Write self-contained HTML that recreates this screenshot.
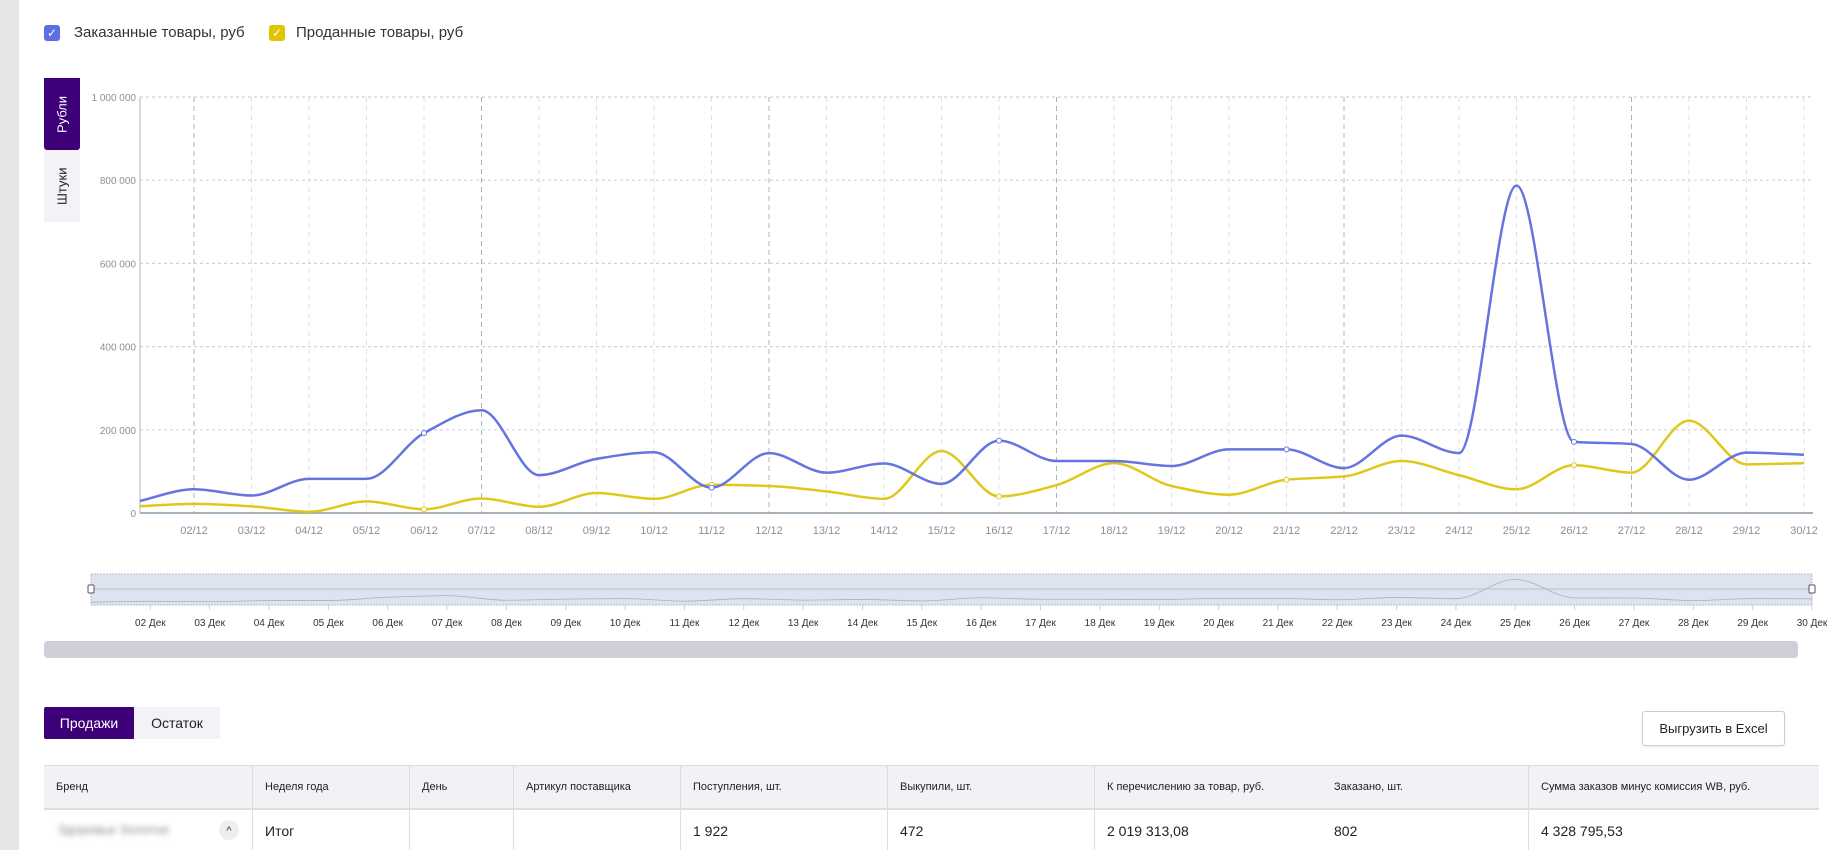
<!DOCTYPE html>
<html><head><meta charset="utf-8">
<style>
*{box-sizing:border-box;margin:0;padding:0}
body{width:1832px;height:850px;overflow:hidden;background:#fff;font-family:"Liberation Sans",sans-serif;position:relative;color:#222}
.abs{position:absolute}
.cb{position:absolute;width:16px;height:16px;border-radius:3px;color:#fff;font-size:12px;line-height:16px;text-align:center}
.lg{position:absolute;font-size:15px;color:#333;top:24px}
.th{position:absolute;top:765px;height:45px;line-height:45px;font-size:11px;color:#222;padding-left:12px;border-left:1px solid #ddd}
.td{position:absolute;top:810px;height:40px;line-height:42px;font-size:14px;color:#222;padding-left:12px;border-left:1px solid #ddd}
</style></head><body>
<div class="abs" style="left:0;top:0;width:19px;height:850px;background:#e6e6e6"></div>

<div class="cb" style="left:44px;top:25px;background:#5b6fe0">✓</div>
<div class="lg" style="left:74px">Заказанные товары, руб</div>
<div class="cb" style="left:269px;top:25px;background:#e0c600">✓</div>
<div class="lg" style="left:296px">Проданные товары, руб</div>

<div class="abs" style="left:44px;top:78px;width:36px;height:72px;background:#3d0078;border-radius:3px 3px 0 0;color:#fff;font-size:13px;writing-mode:vertical-rl;transform:rotate(180deg);display:flex;align-items:center;justify-content:center">Рубли</div>
<div class="abs" style="left:44px;top:150px;width:36px;height:72px;background:#f2f2f7;border-radius:0 0 3px 3px;color:#222;font-size:13px;writing-mode:vertical-rl;transform:rotate(180deg);display:flex;align-items:center;justify-content:center">Штуки</div>

<svg class="abs" style="left:0;top:0" width="1832" height="680" id="chart"></svg>

<div class="abs" style="left:44px;top:641px;width:1754px;height:17px;background:#d0cfd9;border-radius:4px"></div>

<div class="abs" style="left:44px;top:707px;width:90px;height:32px;background:#3d0078;color:#fff;font-size:14px;line-height:32px;text-align:center;border-radius:2px 0 0 2px">Продажи</div>
<div class="abs" style="left:134px;top:707px;width:86px;height:32px;background:#f2f2f7;color:#222;font-size:14px;line-height:32px;text-align:center">Остаток</div>
<div class="abs" style="left:1642px;top:711px;width:143px;height:35px;border:1px solid #ccc;border-radius:3px;font-size:13px;line-height:33px;text-align:center;color:#222;box-shadow:0 1px 2px rgba(0,0,0,.1)">Выгрузить в Excel</div>

<div class="abs" style="left:44px;top:765px;width:1775px;height:45px;background:#f2f2f6;border-top:1px solid #ddd;border-bottom:2px solid #ddd"></div>
<div class="th" style="left:44px;border-left:none">Бренд</div>
<div class="th" style="left:252px">Неделя года</div>
<div class="th" style="left:409px">День</div>
<div class="th" style="left:513px">Артикул поставщика</div>
<div class="th" style="left:680px">Поступления, шт.</div>
<div class="th" style="left:887px">Выкупили, шт.</div>
<div class="th" style="left:1094px">К перечислению за товар, руб.</div>
<div class="th" style="left:1322px;border-left:none">Заказано, шт.</div>
<div class="th" style="left:1528px">Сумма заказов минус комиссия WB, руб.</div>

<div class="abs" style="left:58px;top:822px;font-size:13px;color:#888;filter:blur(3px)">Здоровье Золотое</div>
<div class="abs" style="left:219px;top:820px;width:20px;height:20px;border-radius:50%;background:#eee;font-size:11px;text-align:center;line-height:22px;color:#333">^</div>
<div class="td" style="left:252px">Итог</div>
<div class="td" style="left:409px"></div>
<div class="td" style="left:513px"></div>
<div class="td" style="left:680px">1 922</div>
<div class="td" style="left:887px">472</div>
<div class="td" style="left:1094px">2 019 313,08</div>
<div class="td" style="left:1322px;border-left:none">802</div>
<div class="td" style="left:1528px">4 328 795,53</div>

<script>
const days = ["01","02","03","04","05","06","07","08","09","10","11","12","13","14","15","16","17","18","19","20","21","22","23","24","25","26","27","28","29","30"];
const orderedRub = [27,57,42,82,82,192,247,91,130,146,61,144,97,119,70,174,125,125,113,153,153,108,186,144,787,171,166,80,145,140];
const soldRub = [16,22,16,3,28,9,35,15,48,34,68,65,52,34,149,40,67,120,65,44,80,88,125,91,57,115,97,222,117,120];
const yTicks = [0,200,400,600,800,1000];
const yTickLabels = ["0","200 000","400 000","600 000","800 000","1 000 000"];
const markerIdx = [5,10,15,20,25];

const NS="http://www.w3.org/2000/svg";
const svg=document.getElementById('chart');
function mk(t,a,p){const e=document.createElementNS(NS,t);for(const k in a)e.setAttribute(k,a[k]);(p||svg).appendChild(e);return e;}
const X0=136.5,DX=57.5,Y0=513,YT=97,YMAX=1000,PL=140,PR=1813;
const x=i=>X0+i*DX;
const y=v=>Y0-(v/YMAX)*(Y0-YT);

days.forEach((d,i)=>{
  const xx=x(i); if(xx<PL+2)return;
  const major=(i-1)%5===0;
  const g=mk('line',{x1:xx,x2:xx,y1:YT,y2:Y0,stroke:major?'#aab4bd':'#dde1e5','stroke-dasharray':'5,4','stroke-width':1});
  
  
  const t=mk('text',{x:xx,y:534,'text-anchor':'middle','font-size':11,fill:'#8a8f99','font-family':'Liberation Sans, sans-serif'});
  t.textContent=d+'/12';
  
  
});
yTicks.forEach((v,i)=>{
  const yy=y(v);
  const g=mk('line',{x1:PL,x2:PR,y1:yy,y2:yy,stroke:i===0?'#8a9aa6':'#ccd4da','stroke-dasharray':i===0?'':'3,3','stroke-width':i===0?1.5:1.2});
  
  
  const t=mk('text',{x:136,y:yy+4,'text-anchor':'end','font-size':10,fill:'#8a8f99','font-family':'Liberation Sans, sans-serif'});
  t.textContent=yTickLabels[i];
  
  
});
const ax=mk('line',{x1:PL,x2:PL,y1:YT,y2:Y0,stroke:'#a9b8c4'});



// monotone X cubic interpolation
function pathD(vals,fx,fy){
  const p=vals.map((v,i)=>[fx(i),fy(v)]);
  const n=p.length, m=new Array(n).fill(0), s=[];
  for(let i=0;i<n-1;i++) s.push((p[i+1][1]-p[i][1])/(p[i+1][0]-p[i][0]));
  m[0]=s[0]; m[n-1]=s[n-2];
  for(let i=1;i<n-1;i++){
    if(s[i-1]*s[i]<=0) m[i]=0;
    else m[i]=2/(1/s[i-1]+1/s[i]);
  }
  let d='M'+p[0][0]+','+p[0][1];
  for(let i=0;i<n-1;i++){
    const h=(p[i+1][0]-p[i][0])/3;
    d+=` C${p[i][0]+h},${p[i][1]+m[i]*h} ${p[i+1][0]-h},${p[i+1][1]-m[i+1]*h} ${p[i+1][0]},${p[i+1][1]}`;
  }
  return d;
}
const defs=mk('defs',{});
const cp=mk('clipPath',{id:'pc'},defs);
mk('rect',{x:PL,y:0,width:PR-PL,height:Y0+2},cp);
const g=mk('g',{'clip-path':'url(#pc)'});


[[soldRub,'#e0c81a','sold-series-line'],[orderedRub,'#6474e0','ordered-series-line']].forEach(([vals,c,n])=>{
  const l=mk('path',{d:pathD(vals,x,y),fill:'none',stroke:c,'stroke-width':2.5},g);
  
  
  markerIdx.forEach(i=>{
    const m=mk('circle',{cx:x(i),cy:y(vals[i]),r:2.5,fill:'#fff',stroke:c,'stroke-width':1},g);
    
    
  });
});

const NX0=91,NX1=1812,NY0=574,NY1=605;
const nav=mk('rect',{x:NX0,y:NY0,width:NX1-NX0,height:NY1-NY0,fill:'#dde3ef',stroke:'#b8bec8','stroke-dasharray':'2,1'});


mk('line',{x1:NX0,x2:NX1,y1:589,y2:589,stroke:'#b9c0cc'});
const nx=i=>NX0+i*(NX1-NX0)/29;
const ny=v=>NY1-2-(v/YMAX)*30;
const np=mk('path',{d:pathD(orderedRub,nx,ny),fill:'none',stroke:'#aab0bd','stroke-width':0.8});


[NX0,NX1].forEach(hx=>{
  const h=mk('rect',{x:hx-3,y:585,width:6,height:8,rx:1,fill:'#fff',stroke:'#555'});
  
  
});
days.forEach((d,i)=>{
  if(i===0)return;
  const xx=nx(i);
  mk('line',{x1:xx,x2:xx,y1:NY1,y2:NY1+5,stroke:'#ccd'});
  const t=mk('text',{x:xx,y:626,'text-anchor':'middle','font-size':10,fill:'#333','font-family':'Liberation Sans, sans-serif'});
  t.textContent=d+' Дек';
  
  
});
</script>
</body></html>
